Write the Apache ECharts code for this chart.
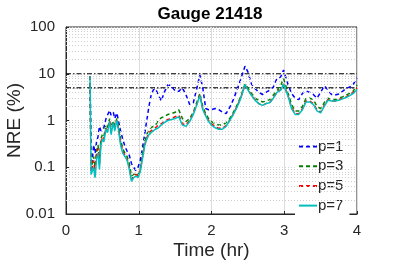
<!DOCTYPE html>
<html><head><meta charset="utf-8">
<script src="https://cdn.jsdelivr.net/npm/echarts@6/dist/echarts.min.js"></script>
<style>html,body{margin:0;padding:0;background:#fff}#c{width:395px;height:263px}</style>
</head><body><div id="c"></div>
<script>
const title = 'Gauge 21418';
const xTicks = [0, 1, 2, 3, 4];
const yTicks = [0.01, 0.1, 1, 10, 100];
const thresholds = [10, 5];
const times = [
0.33,0.345,0.36,0.38,0.40,0.42,0.44,0.46,0.48,0.50,
0.52,0.55,0.57,0.60,0.62,0.65,0.67,0.70,0.72,0.75,
0.78,0.81,0.84,0.87,0.90,0.93,0.96,0.99,1.02,1.05,
1.08,1.11,1.14,1.17,1.20,1.23,1.27,1.31,1.35,1.40,
1.45,1.50,1.55,1.60,1.65,1.70,1.75,1.80,1.84,1.88,
1.92,1.96,2.00,2.05,2.10,2.15,2.20,2.25,2.30,2.35,
2.40,2.46,2.50,2.55,2.60,2.65,2.70,2.75,2.80,2.85,
2.90,2.95,2.99,3.05,3.10,3.15,3.20,3.25,3.30,3.35,
3.40,3.45,3.50,3.55,3.60,3.65,3.70,3.75,3.80,3.85,
3.90,3.95,4.00];
const p1 = [
9,0.15,0.13,0.3,0.2,0.35,0.45,0.75,0.6,0.65,
0.7,1.1,1.0,1.65,1.3,1.5,1.1,1.45,1.0,0.6,
0.4,0.28,0.22,0.18,0.12,0.1,0.085,0.1,0.14,0.25,
0.5,1.0,2.0,3.5,4.5,4.8,3.5,2.6,4.0,5.8,
5.5,4.3,4.2,5.0,3.5,2.2,2.4,5.0,9.5,5.0,
1.8,1.7,1.7,1.8,1.7,1.5,1.4,1.9,2.8,4.5,
7.5,14.5,11,6,4.8,4.0,3.6,4.0,4.5,5.2,
8,8.5,12,6,3.8,3.0,2.8,3.8,4.3,4.0,
3.6,3.0,4.0,5.5,4.5,3.6,3.5,3.7,4.2,4.8,
5.2,6.0,8.2];
const p3 = [
9,0.09,0.12,0.17,0.1,0.22,0.3,0.15,0.4,0.5,
0.45,0.8,0.7,1.1,0.7,1.0,0.8,1.1,0.8,0.4,
0.25,0.2,0.17,0.12,0.065,0.07,0.075,0.07,0.09,0.18,
0.35,0.5,0.65,0.7,0.75,0.8,1.0,1.15,1.2,1.35,
1.4,1.5,1.7,1.1,0.95,1.1,1.5,2.5,3.8,2.0,
1.4,1.1,0.95,0.85,0.8,0.8,0.9,1.1,1.5,2.1,
3.2,6.0,5.0,3.8,3.0,2.7,2.5,2.6,2.8,3.5,
4.3,5.5,8.0,4.0,2.2,1.6,1.6,2.0,3.0,3.0,
2.8,2.0,1.8,2.4,3.0,2.8,2.8,3.0,3.2,3.5,
3.8,4.3,5.8];
const p5 = [
9,0.08,0.1,0.14,0.08,0.2,0.25,0.11,0.35,0.45,
0.4,0.7,0.6,1.0,0.6,0.9,0.7,1.0,0.7,0.35,
0.22,0.18,0.15,0.1,0.055,0.065,0.07,0.065,0.085,0.16,
0.3,0.42,0.55,0.6,0.65,0.7,0.8,0.85,0.95,1.05,
1.1,1.2,1.3,0.85,0.8,1.0,1.4,2.3,3.5,1.8,
1.3,1.0,0.85,0.75,0.68,0.68,0.78,1.0,1.4,2.0,
3.0,5.8,4.6,3.5,2.8,2.3,2.1,2.3,2.4,3.1,
4.0,4.6,6.0,3.5,1.9,1.4,1.4,1.8,2.6,2.6,
2.3,1.7,1.5,2.1,2.8,2.6,2.6,2.8,3.0,3.2,
3.6,4.0,5.0];
const p7 = [
9,0.07,0.065,0.1,0.06,0.15,0.2,0.09,0.3,0.4,
0.35,0.65,0.55,0.95,0.5,0.9,0.6,1.0,0.65,0.3,
0.2,0.17,0.14,0.09,0.05,0.06,0.065,0.06,0.08,0.15,
0.28,0.4,0.5,0.55,0.6,0.65,0.7,0.8,0.9,1.0,
1.05,1.1,1.2,0.8,0.75,0.95,1.35,2.2,3.4,1.7,
1.25,0.95,0.8,0.7,0.65,0.65,0.75,1.0,1.35,1.9,
2.9,5.8,4.5,3.4,2.7,2.3,2.1,2.3,2.4,3.0,
4.0,4.4,6.0,3.4,1.8,1.35,1.35,1.7,2.5,2.5,
2.2,1.6,1.45,2.0,2.7,2.6,2.6,2.7,2.9,3.1,
3.4,3.8,4.6];
const seriesNames = ['p=1', 'p=3', 'p=5', 'p=7'];
const seriesValues = [p1, p3, p5, p7];
const colors = ['#0000ff', '#008000', '#ff0000', '#00bfbf'];
const dashed = [true, true, true, false];

const font = 'Liberation Sans, Arial, Helvetica, sans-serif';
const chart = echarts.init(document.getElementById('c'), null, {renderer: 'canvas'});
const pair = (v) => times.map((t, i) => [t, v[i]]);

// minor log gridlines (2..9 x each decade) - axis decoration
const minorGrid = [];
for (let d = 0; d < yTicks.length - 1; d++) {
  for (let m = 2; m <= 9; m++) minorGrid.push({yAxis: yTicks[d] * m});
}
const series = [{
  type: 'line', data: [], silent: true, z: 1,
  markLine: {silent: true, symbol: 'none', label: {show: false}, animation: false,
    lineStyle: {color: '#cfcfcf', width: 1, type: [1, 2]}, data: minorGrid}
}];
seriesValues.forEach((v, k) => series.push({
  name: seriesNames[k], type: 'line', data: pair(v), showSymbol: false, symbol: 'none',
  lineStyle: {color: colors[k], width: 1.5, type: dashed[k] ? [4, 3] : 'solid'},
  itemStyle: {color: colors[k], opacity: 0}, z: 3 + k, animation: false
}));
thresholds.forEach((h) => series.push({
  type: 'line', data: [[xTicks[0], h], [xTicks[xTicks.length - 1], h]], symbol: 'none',
  lineStyle: {color: '#000', width: 1.2, type: [5, 2, 1.5, 2]}, z: 2, silent: true, animation: false
}));

chart.setOption({
  animation: false,
  title: {text: title, left: 205, top: 1, textAlign: 'center',
    textStyle: {fontFamily: font, fontWeight: 'bold', fontSize: 17, color: '#000'}},
  grid: {left: 66, right: 38, top: 27, bottom: 49, show: true, borderColor: '#262626', borderWidth: 1,
    containLabel: false, outerBoundsMode: 'none'},
  legend: {
    data: seriesNames, orient: 'vertical', left: 295, top: 137, itemWidth: 18, itemHeight: 14,
    itemGap: 4.7, backgroundColor: '#fff', padding: [2, 6, 2, 3],
    itemStyle: {opacity: 0},
    textStyle: {fontFamily: font, fontSize: 15, color: '#262626', padding: [0, 0, 0, -4]}
  },
  xAxis: {
    type: 'value', min: xTicks[0], max: xTicks[xTicks.length - 1], interval: 1,
    name: 'Time (hr)', nameLocation: 'middle', nameGap: 27, nameMoveOverlap: false,
    nameTextStyle: {fontFamily: font, fontSize: 19, color: '#262626'},
    axisLine: {show: true, lineStyle: {color: '#262626'}},
    axisTick: {inside: true, length: 3, lineStyle: {color: '#262626'}},
    axisLabel: {fontFamily: font, fontSize: 15, color: '#262626', margin: 9},
    splitLine: {show: true, lineStyle: {color: '#dcdcdc', width: 1}}
  },
  yAxis: {
    type: 'log', logBase: 10, min: yTicks[0], max: yTicks[yTicks.length - 1],
    name: 'NRE (%)', nameLocation: 'middle', nameGap: 42, nameMoveOverlap: false,
    nameTextStyle: {fontFamily: font, fontSize: 19, color: '#262626'},
    axisLine: {show: true, lineStyle: {color: '#262626'}},
    axisTick: {inside: true, length: 3, lineStyle: {color: '#262626'}},
    axisLabel: {fontFamily: font, fontSize: 15, color: '#262626', margin: 11,
      formatter: (v) => String(+v.toPrecision(3))},
    splitLine: {show: true, lineStyle: {color: '#d5d5d5', width: 1, type: [1, 2]}}
  },
  series: series
});
</script></body></html>
